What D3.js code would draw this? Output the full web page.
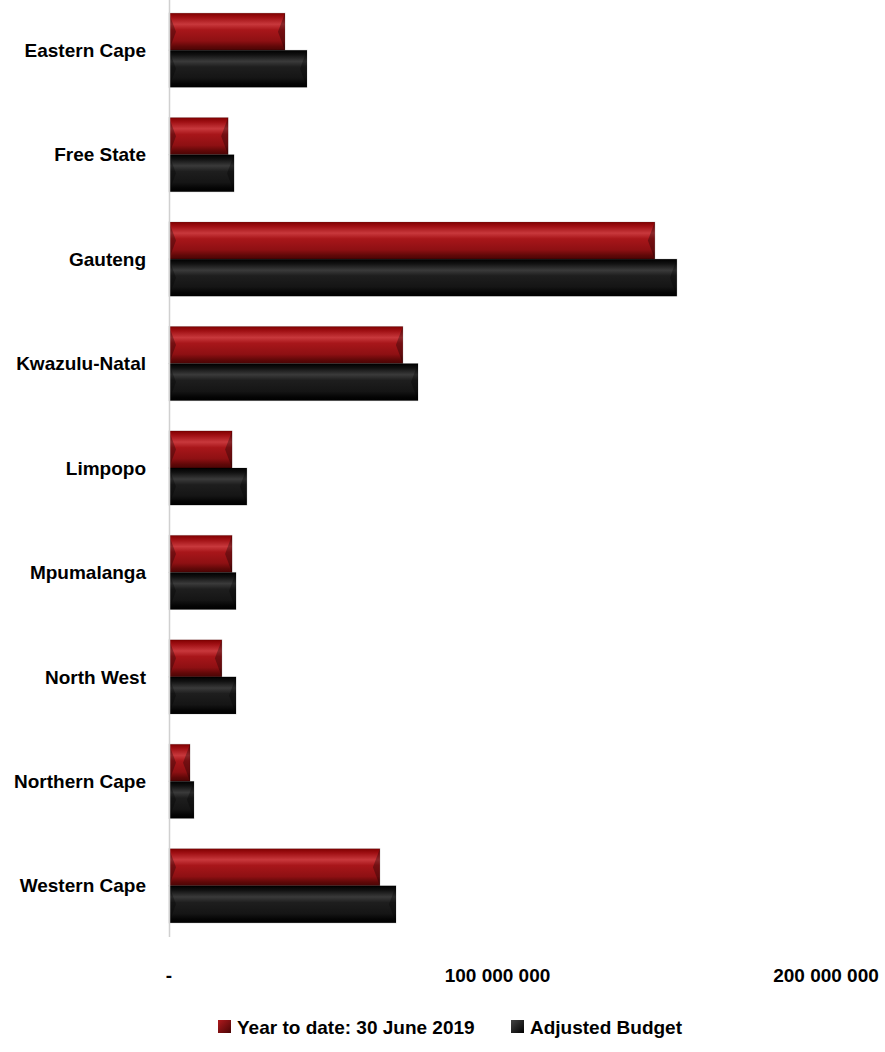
<!DOCTYPE html>
<html>
<head>
<meta charset="utf-8">
<script src="https://cdn.jsdelivr.net/npm/d3@7"></script>
<style>
  html, body { margin: 0; padding: 0; background: #fff; }
  svg text { font-family: "Liberation Sans Narrow", "Arial Narrow", "Liberation Sans", Arial, sans-serif; font-weight: bold; fill: #000; }
</style>
</head>
<body>
<svg id="chart" width="885" height="1052"></svg>
<script>
// Provincial spending: year to date vs adjusted budget (Rand)
const provinces = ["Eastern Cape", "Free State", "Gauteng", "Kwazulu-Natal", "Limpopo",
                   "Mpumalanga", "North West", "Northern Cape", "Western Cape"];
const yearToDate = [35300000, 18000000, 147900000, 71200000, 19200000,
                    19200000, 16100000, 6400000, 64200000];
const adjustedBudget = [42000000, 19800000, 154600000, 75800000, 23700000,
                        20400000, 20400000, 7600000, 69100000];
const seriesNames = ["Year to date: 30 June 2019", "Adjusted Budget"];
const tickValues = [0, 100000000, 200000000];
const tickLabels = ["-", "100 000 000", "200 000 000"];

const svg = d3.select("#chart");
const x0 = 169;
const x = d3.scaleLinear().domain([0, 200000000]).range([x0, 826]);
const y = d3.scaleBand().domain(provinces).range([-2, 938])
  .paddingInner(0.29).paddingOuter(0.145);
const ySub = d3.scaleBand().domain([0, 1]).range([0, y.bandwidth()]);

// bevelled fills
const defs = svg.append("defs");
function grad(id, stops) {
  const g = defs.append("linearGradient").attr("id", id)
    .attr("x1", 0).attr("y1", 0).attr("x2", 0).attr("y2", 1);
  stops.forEach(s => g.append("stop").attr("offset", s[0]).attr("stop-color", s[1]));
}
grad("gRed", [[0, "#800000"], [0.12, "#a01014"], [0.3, "#c8383c"], [0.45, "#a8161a"],
              [0.75, "#8e1013"], [0.9, "#600808"], [1, "#4a0505"]]);
grad("gBlack", [[0, "#000"], [0.12, "#111"], [0.3, "#3a3a3a"], [0.45, "#1e1e1e"],
                [0.75, "#151515"], [0.9, "#050505"], [1, "#000"]]);
const legendRed = defs.append("linearGradient").attr("id", "lRed")
  .attr("x1", 0).attr("y1", 0).attr("x2", 1).attr("y2", 1);
legendRed.append("stop").attr("offset", 0).attr("stop-color", "#b01a1e");
legendRed.append("stop").attr("offset", 1).attr("stop-color", "#4a0505");
const legendBlack = defs.append("linearGradient").attr("id", "lBlack")
  .attr("x1", 0).attr("y1", 0).attr("x2", 1).attr("y2", 1);
legendBlack.append("stop").attr("offset", 0).attr("stop-color", "#444");
legendBlack.append("stop").attr("offset", 1).attr("stop-color", "#000");

const fills = ["url(#gRed)", "url(#gBlack)"];
const series = [yearToDate, adjustedBudget];

const rows = [];
provinces.forEach((p, i) => {
  series.forEach((s, k) => rows.push({ p, k, v: s[i] }));
});

const bars = svg.append("g").selectAll("g").data(rows).join("g");
bars.append("rect")
  .attr("x", x(0))
  .attr("y", d => y(d.p) + ySub(d.k))
  .attr("width", d => x(d.v) - x(0))
  .attr("height", ySub.bandwidth())
  .attr("fill", d => fills[d.k])
  .attr("stroke", "rgba(0,0,0,0.15)")
  .attr("stroke-width", 1);

// chevron shading at both ends of every bar
const b = 7;
bars.append("path")
  .attr("fill", "rgba(0,0,0,0.3)")
  .attr("d", d => {
    const xa = x(0), xb = x(d.v), ya = y(d.p) + ySub(d.k), yb = ya + ySub.bandwidth();
    const bb = Math.min(b, (xb - xa) / 2 - 1);
    const m = (ya + yb) / 2;
    return `M${xa},${ya}L${xa + bb},${m}L${xa},${yb}Z` +
           `M${xb},${ya}L${xb - bb},${m}L${xb},${yb}Z`;
  });

// vertical axis line
svg.append("line")
  .attr("x1", x0 + 0.5).attr("x2", x0 + 0.5)
  .attr("y1", 0).attr("y2", 937)
  .attr("stroke", "#d0d0d0").attr("stroke-width", 1.5);

// category labels
svg.append("g").selectAll("text").data(provinces).join("text")
  .attr("x", 146)
  .attr("y", d => y(d) + y.bandwidth() / 2)
  .attr("dy", "0.35em")
  .attr("text-anchor", "end")
  .attr("font-size", 19)
  .text(d => d);

// value axis labels
svg.append("g").selectAll("text").data(tickValues).join("text")
  .attr("x", d => x(d))
  .attr("y", 975)
  .attr("dy", "0.35em")
  .attr("text-anchor", "middle")
  .attr("font-size", 19)
  .text((d, i) => tickLabels[i]);

// legend
const legendX = [218, 511];
const lg = svg.append("g").selectAll("g").data(seriesNames).join("g")
  .attr("transform", (d, i) => `translate(${legendX[i]},1027)`);
lg.append("rect").attr("x", 0).attr("y", -7).attr("width", 13).attr("height", 13)
  .attr("fill", (d, i) => i === 0 ? "url(#lRed)" : "url(#lBlack)");
lg.append("text").attr("x", 19).attr("y", 0).attr("dy", "0.35em")
  .attr("font-size", 19).text(d => d);
</script>
</body>
</html>
